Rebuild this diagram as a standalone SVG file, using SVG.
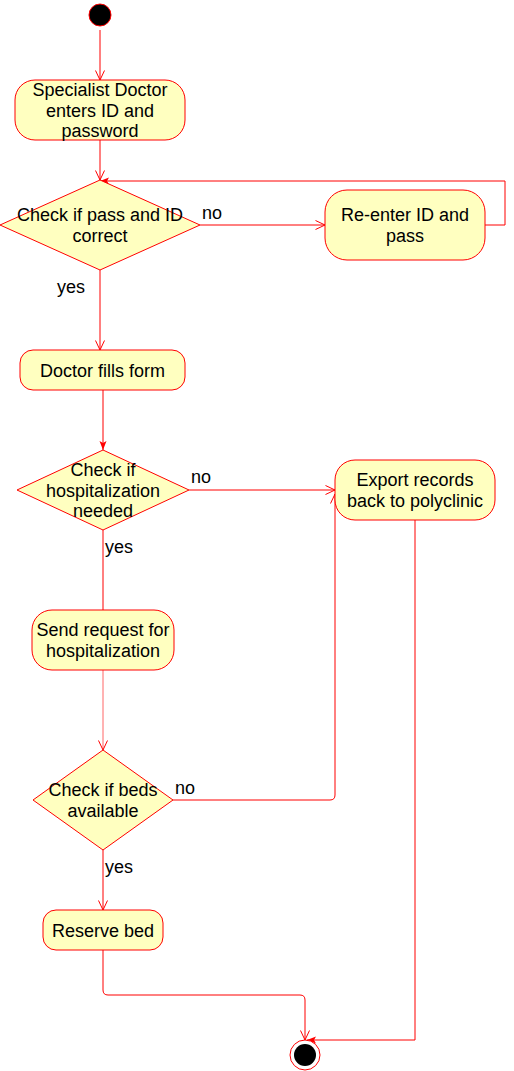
<svg xmlns="http://www.w3.org/2000/svg" width="514" height="1071" viewBox="0 0 514 1071">
<defs>
<style>
.n{fill:#ffffc0;stroke:#ff0000;stroke-width:1}
.t{font-family:"Liberation Sans",Arial,sans-serif;font-size:18px;fill:#000;text-anchor:middle}
.l{font-family:"Liberation Sans",Arial,sans-serif;font-size:18px;fill:#000}
.c{fill:none;stroke:#ff0000;stroke-width:1}
</style>
<marker id="open" markerUnits="userSpaceOnUse" markerWidth="12" markerHeight="12" refX="10" refY="5" orient="auto" viewBox="0 0 12 10">
<path d="M0.5,0.5 L10,5 L0.5,9.5" fill="none" stroke="#ff0000" stroke-width="1"/>
</marker>
<marker id="fill" markerUnits="userSpaceOnUse" markerWidth="10" markerHeight="8" refX="9" refY="4" orient="auto" viewBox="0 0 10 8">
<path d="M0,0.5 L9,4 L0,7.5 L2,4 Z" fill="#ff0000" stroke="none"/>
</marker>
</defs>
<rect width="514" height="1071" fill="#ffffff"/>
<g id="connectors">
<path class="c" d="M100,30 L100,80" marker-end="url(#open)"/>
<path class="c" d="M100,140 L100,180" marker-end="url(#open)"/>
<path class="c" d="M200,225 L325,225" marker-end="url(#open)"/>
<path class="c" d="M485,225 L505,225 L505,181 L100,181" marker-end="url(#fill)"/>
<path class="c" d="M100,270 L100,350" marker-end="url(#open)"/>
<path class="c" d="M103,390 L103,450" marker-end="url(#fill)"/>
<path class="c" d="M189,490 L335,490" marker-end="url(#open)"/>
<path class="c" d="M103,530 L103,610"/>
<path class="c" d="M103,670 L103,750" stroke-opacity="0.6" marker-end="url(#open)"/>
<path class="c" d="M173,800 L330,800 Q335,800 335,795 L335,494" marker-end="url(#open)"/>
<path class="c" d="M103,850 L103,910" marker-end="url(#open)"/>
<path class="c" d="M103,950 L103,990 Q103,995 108,995 L300,995 Q305,995 305,1000 L305,1040" marker-end="url(#open)"/>
<path class="c" d="M415,520 L415,1040 L307,1040" marker-end="url(#fill)"/>
<text class="l" x="202" y="219">no</text>
<text class="l" x="57" y="293">yes</text>
<text class="l" x="191" y="483">no</text>
<text class="l" x="105" y="553">yes</text>
<text class="l" x="175" y="794">no</text>
<text class="l" x="105" y="873">yes</text>
</g>
<g id="start">
<circle cx="100" cy="15" r="11" fill="#000" stroke="#ff0000" stroke-width="1"/>
</g>
<g id="enter">
<rect class="n" x="15" y="80" width="170" height="60" rx="20" ry="20"/>
<text class="t" x="100" y="96">Specialist Doctor</text>
<text class="t" x="100" y="116.5">enters ID and</text>
<text class="t" x="100" y="137">password</text>
</g>
<g id="check-pass">
<polygon class="n" points="100,180 200,225 100,270 0,225"/>
<text class="t" x="100" y="220.7">Check if pass and ID</text>
<text class="t" x="100" y="241.7">correct</text>
</g>
<g id="reenter">
<rect class="n" x="325" y="190" width="160" height="70" rx="22" ry="22"/>
<text class="t" x="405" y="220.7">Re-enter ID and</text>
<text class="t" x="405" y="241.7">pass</text>
</g>
<g id="fills-form">
<rect class="n" x="20" y="350" width="165" height="40" rx="13" ry="13"/>
<text class="t" x="102.5" y="377.3">Doctor fills form</text>
</g>
<g id="check-hosp">
<polygon class="n" points="103,450 189,490 103,530 17,490"/>
<text class="t" x="103" y="476">Check if</text>
<text class="t" x="103" y="496.7">hospitalization</text>
<text class="t" x="103" y="517">needed</text>
</g>
<g id="export">
<rect class="n" x="335" y="460" width="160" height="60" rx="20" ry="20"/>
<text class="t" x="415" y="486">Export records</text>
<text class="t" x="415" y="506.7">back to polyclinic</text>
</g>
<g id="send-request">
<rect class="n" x="32" y="610" width="142" height="60" rx="20" ry="20"/>
<text class="t" x="103" y="636">Send request for</text>
<text class="t" x="103" y="656.7">hospitalization</text>
</g>
<g id="check-beds">
<polygon class="n" points="103,750 173,800 103,850 33,800"/>
<text class="t" x="103" y="796">Check if beds</text>
<text class="t" x="103" y="816.7">available</text>
</g>
<g id="reserve">
<rect class="n" x="43" y="910" width="120" height="40" rx="13" ry="13"/>
<text class="t" x="103" y="936.7">Reserve bed</text>
</g>
<g id="end">
<circle cx="305" cy="1055" r="15" fill="#ffffff" stroke="#ff0000" stroke-width="1"/>
<circle cx="305" cy="1055" r="11" fill="#000"/>
</g>
</svg>
